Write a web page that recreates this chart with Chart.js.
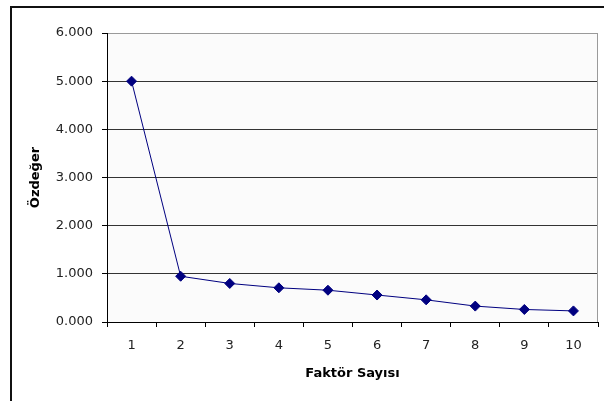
<!DOCTYPE html>
<html>
<head>
<meta charset="utf-8">
<script src="https://cdn.jsdelivr.net/npm/chart.js@4/dist/chart.umd.min.js"></script>
<style>
  html, body { margin: 0; padding: 0; background: #ffffff; }
  #wrap { width: 604px; height: 401px; position: relative; }
</style>
</head>
<body>
<div id="wrap"><canvas id="c" width="604" height="401"></canvas></div>
<script>
// Scree plot: eigenvalue per factor number
const factors = ['1', '2', '3', '4', '5', '6', '7', '8', '9', '10'];
const eigenvalues = [5.00, 0.95, 0.80, 0.71, 0.66, 0.56, 0.46, 0.33, 0.26, 0.23];
const yTicks = [0, 1, 2, 3, 4, 5, 6];

const navy = '#000080';
const tickFont = { family: 'DejaVu Sans', size: 13 };
const titleFont = { family: 'DejaVu Sans', size: 13, weight: 'bold' };

// Frame around the figure, pale plot background and grey right edge
const framePlugin = {
  id: 'frame',
  beforeDraw(chart) {
    const ctx = chart.ctx;
    const a = chart.chartArea;
    ctx.save();
    ctx.fillStyle = '#ffffff';
    ctx.fillRect(0, 0, chart.width, chart.height);
    ctx.fillStyle = '#fbfbfb';
    ctx.fillRect(a.left, a.top, a.right - a.left, a.bottom - a.top);
    ctx.strokeStyle = '#111111';
    ctx.lineWidth = 2;
    ctx.beginPath();
    ctx.moveTo(11, chart.height + 2);
    ctx.lineTo(11, 7);
    ctx.lineTo(chart.width + 2, 7);
    ctx.stroke();
    ctx.restore();
  },
  afterDatasetsDraw(chart) {
    const ctx = chart.ctx;
    const a = chart.chartArea;
    ctx.save();
    ctx.strokeStyle = '#9a9a9a';
    ctx.lineWidth = 1;
    ctx.beginPath();
    ctx.moveTo(Math.round(a.right) - 0.5, a.top);
    ctx.lineTo(Math.round(a.right) - 0.5, a.bottom);
    ctx.stroke();
    ctx.restore();
  }
};

new Chart(document.getElementById('c'), {
  type: 'line',
  data: {
    labels: factors,
    datasets: [{
      data: eigenvalues,
      borderColor: navy,
      borderWidth: 1,
      backgroundColor: navy,
      pointStyle: 'rectRot',
      pointRadius: 5,
      pointHoverRadius: 5,
      pointBackgroundColor: navy,
      pointBorderColor: navy,
      tension: 0,
      fill: false
    }]
  },
  options: {
    responsive: false,
    animation: false,
    devicePixelRatio: 1,
    layout: { padding: { left: 0, top: 33, right: 2, bottom: 0 } },
    plugins: {
      legend: { display: false },
      tooltip: { enabled: false }
    },
    scales: {
      x: {
        offset: true,
        afterFit(scale) { scale.height = 79; },
        grid: {
          offset: true,
          drawOnChartArea: false,
          drawTicks: true,
          tickLength: 5,
          tickColor: '#000000'
        },
        border: { display: true, color: '#000000', width: 1 },
        ticks: { color: '#222222', font: tickFont, padding: 11, maxRotation: 0 },
        title: {
          display: true,
          text: 'Faktör Sayısı',
          color: '#000000',
          font: titleFont,
          padding: { top: 0, bottom: 20 }
        }
      },
      y: {
        min: 0,
        max: 6,
        afterFit(scale) { scale.width = 107; },
        afterBuildTicks(scale) { scale.ticks = yTicks.map(v => ({ value: v })); },
        grid: {
          color(ctx) { return ctx.tick && ctx.tick.value === 6 ? '#9a9a9a' : '#333333'; },
          lineWidth: 1,
          drawTicks: true,
          tickLength: 5,
          tickColor: '#000000'
        },
        border: { display: true, color: '#000000', width: 1 },
        ticks: {
          color: '#222222',
          font: tickFont,
          padding: 9,
          callback: v => v.toFixed(3)
        },
        title: {
          display: true,
          text: 'Özdeğer',
          color: '#000000',
          font: titleFont,
          padding: { top: 28, bottom: 0 }
        }
      }
    }
  },
  plugins: [framePlugin]
});
</script>
</body>
</html>
